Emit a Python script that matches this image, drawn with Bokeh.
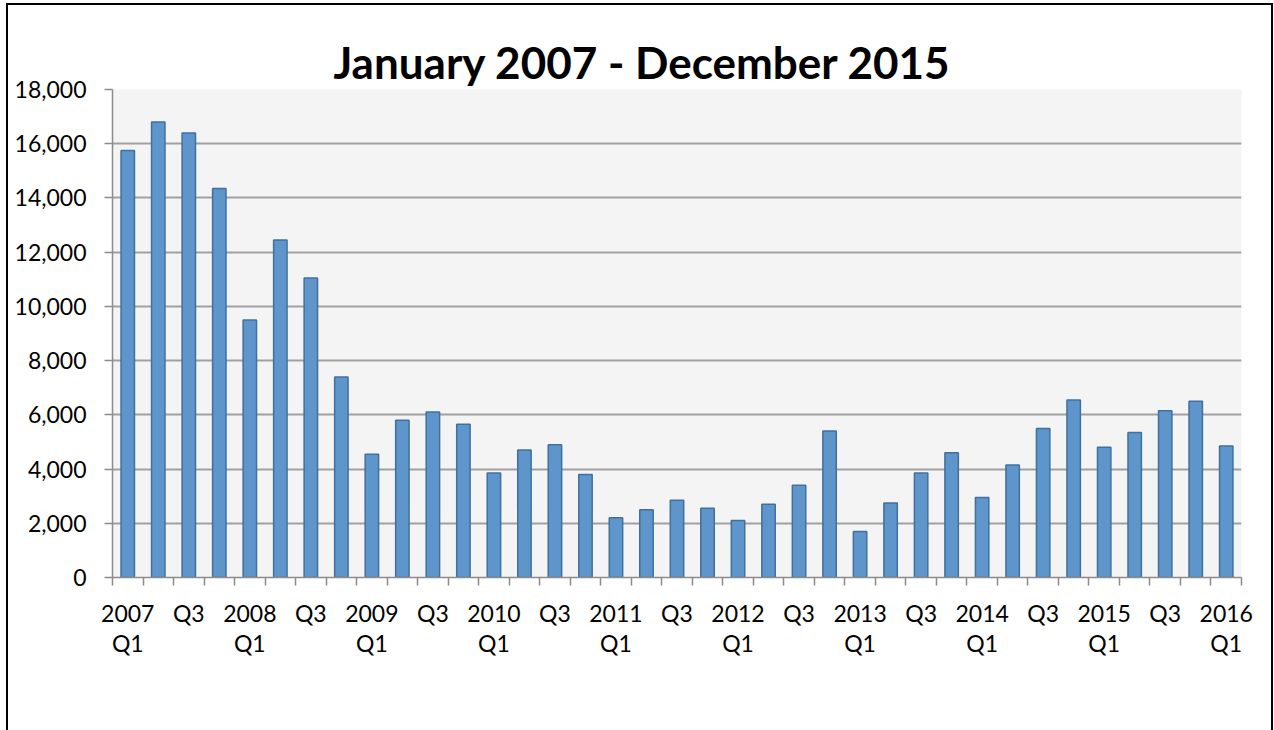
from bokeh.plotting import figure
from bokeh.models import FixedTicker, NumeralTickFormatter, Range1d, ColumnDataSource
from bokeh.embed import file_html
from bokeh.resources import INLINE

years = list(range(2007, 2017))
quarters = ["Q1", "Q2", "Q3", "Q4"]
categories = [f"{y} {q}" for y in years for q in quarters][:37]
values = [15750, 16800, 16400, 14350, 9500, 12450, 11050, 7400, 4550, 5800,
          6100, 5650, 3850, 4700, 4900, 3800, 2200, 2500, 2850, 2550,
          2100, 2700, 3400, 5400, 1700, 2750, 3850, 4600, 2950, 4150,
          5500, 6550, 4800, 5350, 6150, 6500, 4850]
y_ticks = list(range(0, 18001, 2000))

xs = list(range(1, len(categories) + 1))
src = ColumnDataSource(dict(x=xs, v=values, cat=categories))

def tick_label(cat):
    y, q = cat.split(" ")
    return f"{y}\n{q}" if q == "Q1" else q

p = figure(width=1267, height=727, output_backend="svg", toolbar_location=None,
           x_range=Range1d(0.5, len(categories) + 0.5), y_range=Range1d(0, 18000),
           min_border_left=104, min_border_right=34, min_border_top=84, min_border_bottom=155,
           background_fill_color="#f4f4f4", border_fill_color="white",
           outline_line_color=None, title="January 2007 - December 2015")
p.styles = {"border": "2px solid black", "border-bottom": "none",
            "margin-left": "6px", "margin-top": "3px"}

p.title.align = "left"
p.title.offset = 221
p.title.standoff = 4
p.title.text_font = "Lato"
p.title.text_font_style = "bold"
p.title.text_font_size = "44px"
p.title.text_color = "black"

p.vbar(x="x", top="v", width=0.44, source=src, fill_color="#5e95cb",
       line_color="#41709f", line_width=1.5)

major = [x for x, c in zip(xs, categories) if c.split(" ")[1] in ("Q1", "Q3")]
p.xaxis.ticker = FixedTicker(ticks=major, minor_ticks=[x - 0.5 for x in xs] + [xs[-1] + 0.5])
p.xaxis.major_label_overrides = {x: tick_label(c) for x, c in zip(xs, categories) if x in major}
p.xaxis.major_tick_out = 0
p.xaxis.major_tick_in = 0
p.xaxis.minor_tick_out = 8
p.xaxis.minor_tick_in = 0
p.xaxis.minor_tick_line_color = "#8c8c8c"
p.xaxis.minor_tick_line_width = 1.5
p.xaxis.axis_line_color = "#8c8c8c"
p.xaxis.axis_line_width = 1.5
p.xaxis.major_label_text_font = "Lato"
p.xaxis.major_label_text_font_size = "23px"
p.xaxis.major_label_text_color = "black"
p.xaxis.major_label_text_line_height = 1.1
p.xaxis.major_label_standoff = 13

p.yaxis.ticker = FixedTicker(ticks=y_ticks)
p.yaxis.formatter = NumeralTickFormatter(format="0,0")
p.yaxis.major_tick_out = 8
p.yaxis.major_tick_in = 0
p.yaxis.minor_tick_line_color = None
p.yaxis.major_tick_line_color = "#8c8c8c"
p.yaxis.major_tick_line_width = 1.5
p.yaxis.axis_line_color = "#8c8c8c"
p.yaxis.axis_line_width = 1.5
p.yaxis.major_label_text_font = "Lato"
p.yaxis.major_label_text_font_size = "23px"
p.yaxis.major_label_text_color = "black"
p.yaxis.major_label_standoff = 18

p.xgrid.grid_line_color = None
p.ygrid.grid_line_color = "#a0a0a0"
p.ygrid.grid_line_width = 2

open("out.html", "w").write(file_html(p, INLINE))
